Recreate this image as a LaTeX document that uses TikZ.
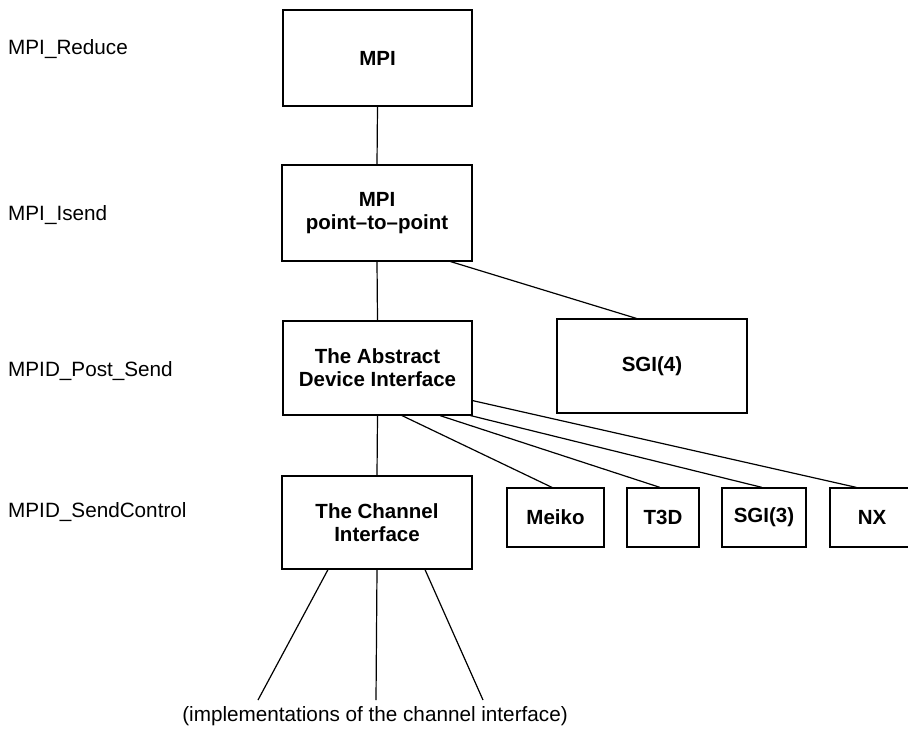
\documentclass[tikz,border=0pt]{standalone}
\usepackage{fontspec}
\setmainfont{Liberation Sans}
\usetikzlibrary{calc}
\tikzset{
  box/.style={draw, line width=1.2pt, inner sep=0pt, align=center,
    font=\bfseries\fontsize{20.5}{23}\selectfont},
  lbl/.style={anchor=base west, inner sep=0pt, font=\fontsize{20.7}{24}\selectfont},
  conn/.style={line width=1.2pt}
}
\begin{document}
\begin{tikzpicture}[x=1pt,y=-1pt]
\useasboundingbox (0,0) rectangle (908,738);
% left labels
\node[lbl] (l1) at (8,55) {MPI\_Reduce};
\node[lbl] (l2) at (8,221) {MPI\_Isend};
\node[lbl] (l3) at (8,376) {MPID\_Post\_Send};
\node[lbl] (l4) at (8,517) {MPID\_SendControl};
% boxes
\node[box, minimum width=189pt, minimum height=96pt] (mpi) at (377.5,58) {MPI};
\node[box, minimum width=190pt, minimum height=96pt] (p2p) at (377,213) {MPI\\point--to--point};
\node[box, minimum width=189pt, minimum height=94pt] (adi) at (377.5,368) {The Abstract\\Device Interface};
\node[box, minimum width=190pt, minimum height=94pt] (sgi4) at (652,366) {SGI(4)};
\node[box, minimum width=190pt, minimum height=93pt] (chan) at (377,522.5) {The Channel\\Interface};
\node[box, minimum width=97pt, minimum height=59pt] (melko) at (555.5,517.5) {Meiko};
\node[box, minimum width=72pt, minimum height=59pt] (t3d) at (663,517.5) {T3D};
\node[box, minimum width=84pt, minimum height=59pt] (sgi3) at (764,517.5) {SGI(3)};
\node[box, minimum width=84pt, minimum height=59pt] (nx) at (872,517.5) {NX};
% connectors
\draw[conn] (mpi.south) -- (p2p.north);
\draw[conn] (p2p.south) -- (adi.north);
\draw[conn] ($(p2p.south east)+(-22,0)$) -- ($(sgi4.north west)+(80,0)$);
\draw[conn] (adi.south) -- (chan.north);
\draw[conn] ($(adi.south)+(24.5,0)$) -- ($(melko.north)+(-3.5,0)$);
\draw[conn] ($(adi.south)+(62.5,0)$) -- ($(t3d.north)+(-3,0)$);
\draw[conn] ($(adi.south east)+(-2,0)$) -- ($(sgi3.north)+(-2,0)$);
\draw[conn] ($(adi.south east)+(0,-15)$) -- ($(nx.north west)+(27,0)$);
% bottom fan
\coordinate (f1) at (258,700);
\coordinate (f2) at (376,700);
\coordinate (f3) at (483,700);
\draw[conn] ($(chan.south)+(-49,0)$) -- (f1);
\draw[conn] (chan.south) -- (f2);
\draw[conn] ($(chan.south)+(48,0)$) -- (f3);
\node[inner sep=0pt, font=\fontsize{20.7}{24}\selectfont] (impl) at (375,716) {(implementations of the channel interface)};
\end{tikzpicture}
\end{document}
